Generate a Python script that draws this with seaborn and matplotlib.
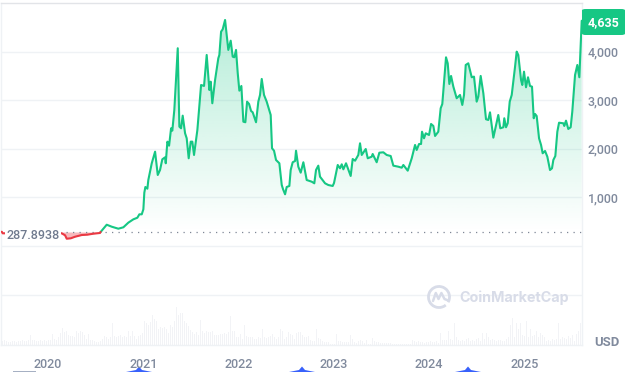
import numpy as np
import matplotlib
matplotlib.use("Agg")
import matplotlib.pyplot as plt
from matplotlib.patches import FancyBboxPatch, Polygon, Arc
import seaborn as sns

BASE_YEAR = 2020
year_offsets = [-.486,-.476,.144,.179,.196,.238,.284,.354,.413,.476,.546,.552,.581,.616,.669,.738,.791,.843,.896,.938,.959,.984,
1.001,1.011,1.022,1.043,1.053,1.089,1.124,1.152,1.176,1.200,1.229,1.236,1.253,1.271,1.292,1.305,1.326,1.362,1.379,1.397,1.414,1.439,1.456,1.477,1.498,1.515,1.533,1.568,1.607,1.638,1.666,1.694,1.708,1.725,1.754,1.788,1.799,1.817,1.834,1.859,1.893,1.918,1.939,1.956,1.974,1.992,
2.009,2.030,2.051,2.072,2.090,2.111,2.132,2.149,2.184,2.208,2.226,2.244,2.268,2.296,2.338,2.352,2.373,2.394,2.429,2.454,2.468,2.489,2.506,2.534,2.548,2.569,2.594,2.604,2.628,2.653,2.681,2.716,2.769,2.796,2.814,2.838,2.856,2.909,2.943,2.989,
3.003,3.042,3.066,3.084,3.101,3.129,3.178,3.199,3.224,3.258,3.276,3.294,3.336,3.357,3.399,3.409,3.451,3.479,3.521,3.556,3.598,3.626,3.678,3.714,3.731,3.777,3.819,3.854,3.871,3.896,3.917,3.927,3.948,3.966,
4.001,4.022,4.046,4.064,4.098,4.123,4.140,4.179,4.197,4.214,4.232,4.256,4.291,4.326,4.350,4.368,4.386,4.413,4.449,4.473,4.501,4.518,4.543,4.571,4.599,4.623,4.641,4.676,4.701,4.728,4.749,4.781,4.791,4.809,4.827,4.848,4.869,4.904,4.921,4.938,4.967,4.980,4.998,
5.019,5.040,5.061,5.082,5.100,5.114,5.131,5.156,5.177,5.194,5.219,5.243,5.271,5.292,5.306,5.327,5.348,5.366,5.411,5.421,5.439,5.463,5.488,5.505,5.534,5.558,5.579,5.604]
prices = [294,261,261,220,150,158,191,226,233,253,268,288,356,438,397,356,385,480,549,582,652,652,
755,1097,1214,1179,1358,1702,1941,1461,1564,1784,1825,1702,2147,2064,2422,2373,2799,4069,2455,2422,2682,2319,2216,1805,2147,2147,1873,2387,3313,3293,3931,3210,3381,2937,3416,3863,3931,4410,4459,4651,4034,4225,3896,3883,4034,3554,
3196,3293,2558,2546,2970,2922,2778,2751,2546,2970,3108,3437,3108,2970,2696,2011,1961,1770,1702,1255,1167,1064,1214,1235,1564,1723,1749,1961,1632,1509,1723,1358,1323,1290,1564,1653,1426,1290,1255,1235,
1297,1667,1599,1681,1578,1702,1441,1790,1755,1873,2113,1873,1996,1805,1838,1893,1723,1920,1928,1873,1852,1653,1632,1611,1667,1550,1805,2079,1976,2099,2099,2352,2216,2319,
2284,2511,2470,2264,2352,2834,2922,3883,3759,3334,3499,3279,3040,3108,2902,3108,3725,3759,3472,3485,2970,3073,3499,3142,2608,2593,2751,2229,2455,2696,2422,2443,2628,2443,2525,2970,3108,3690,3999,3931,3416,3313,3587,
3266,3472,3293,3279,2628,2717,2675,2216,2079,1908,1955,1838,1564,1599,1770,1852,2352,2537,2525,2470,2579,2408,2443,2764,3519,3725,3472,4635]

volumes = [4,5,4,3,3,4,4,3,4,4,5,4,4,5,10,
5,5,4,4,5,4,5,4,5,5,
11,6,5,8,12,17,13,14,10,9,9,
8,14,12,14,13,10,6,11,
5,5,4,3,3,4,
6,9,8,6,8,22,
9,8,9,10,8,9,8,
14,9,14,9,6,9,10,12,
24,22,20,23,30,26,24,
16,18,17,18,16,12,20,18,24,
38,30,32,32,24,22,19,15,13,11,13,10,
25,14,12,14,13,13,14,10,10,10,11,11,12,11,13,29,14,14,8,8,11,6,20,9,8,8,8,6,6,8,7,16,8,7,8,9,11,8,6,8,16,14,6,8,13,11,10,6,12,13,13,10,8,8,9,5,4,4,16,7,6,4,3,3,3,1,1,1,11,4,4,3,3,3,3,10,6,3,2,4,5,4,2,5,1,1,7,4,3,3,2,2,2,2,2,2,1,1,1,1,
1,1,1,1,1,1,5,4,3,4,3,3,2,3,3,4,3,3,4,2,12,5,5,5,14,6,5,22,8,5,4,5,4,6,7,4,5,4,6,7,4,12,6,12,8,5,6,5,4,5,5,4,4,6,8,20,27,8,22,16,22,10,9,24,8,16,9,10,14,8,12,10,8,4,5,4,6,5,6,22,6,8,7,6,9,7,10,4,11,14,22,30,47]

tick_years = [2020, 2021, 2022, 2023, 2024, 2025]
price_ticks = [1000, 2000, 3000, 4000]
grid_levels = [-1000, 0, 1000, 2000, 3000, 4000]
baseline = 287.8938
last_price = 4635

GREEN = "#16c784"; RED = "#ea3943"; GRID = "#eff2f5"; TXT = "#808a9d"
sns.set_theme(style="white")
plt.rcParams["font.family"] = ["Roboto", "DejaVu Sans"]

W, H = 638, 372
fig = plt.figure(figsize=(W/100, H/100), dpi=100, facecolor="white")
rect = [1/W, 1-345/H, 581/W, 342/H]
ax_vol = fig.add_axes(rect, zorder=0)
ax = fig.add_axes(rect, zorder=1)
ax.patch.set_visible(False)

years = BASE_YEAR + np.array(year_offsets)
vals = np.array(prices, dtype=float)
xlim = (2019.506, 2025.607)
ylim = (-2037, 5000)

# volume
vol_x = 2019.517 + 0.021*np.arange(len(volumes))
sns.barplot(x=vol_x, y=volumes, native_scale=True, color="#f2f3f6", saturation=1,
            width=0.5, linewidth=0, ax=ax_vol)
ax_vol.set_xlim(xlim); ax_vol.set_ylim(0, 342); ax_vol.axis("off")

# gradient fill above the baseline
g = years >= BASE_YEAR + .552
r = years <= BASE_YEAR + .552
poly = ax.fill_between(years[g], vals[g], baseline, color="none", linewidth=0)
grad = np.zeros((256, 1, 4))
grad[..., 0], grad[..., 1], grad[..., 2] = 0x16/255, 0xc7/255, 0x84/255
grad[:, 0, 3] = np.linspace(0, .32, 256)
im = ax.imshow(grad, extent=[xlim[0], xlim[1], baseline, 4700], origin="lower",
               aspect="auto", zorder=1.5, interpolation="bilinear")
im.set_clip_path(poly.get_paths()[0], transform=ax.transData)
ax.fill_between(years[r], vals[r], baseline, color=RED, alpha=.35, linewidth=0, zorder=1.5)

sns.lineplot(x=years[g], y=vals[g], color=GREEN, linewidth=1.5, sort=False,
             estimator=None, errorbar=None, ax=ax, zorder=3)
sns.lineplot(x=years[r], y=vals[r], color=RED, linewidth=1.5, sort=False,
             estimator=None, errorbar=None, ax=ax, zorder=3)
ax.axhline(baseline, color="#7f8796", lw=0.9, ls=(0, (1, 4.2)), zorder=2)

ax.set_xlim(xlim); ax.set_ylim(ylim)
ax.set_xlabel(""); ax.set_ylabel("")
for lv in grid_levels:
    ax.axhline(lv, color=GRID, lw=1, zorder=0.5)

ax.set_xticks(tick_years); ax.set_xticklabels([str(t) for t in tick_years])
ax.yaxis.tick_right()
ax.set_yticks(price_ticks); ax.set_yticklabels([f"{v:,}" for v in price_ticks])
ax.tick_params(axis="both", length=0, labelcolor=TXT)
ax.tick_params(axis="y", pad=4, labelsize=9)
ax.tick_params(axis="x", pad=9, labelsize=9)
for lab in ax.get_yticklabels() + ax.get_xticklabels():
    lab.set_fontweight("medium")
for s in ax.spines.values():
    s.set_color(GRID); s.set_linewidth(1)
ax.spines["top"].set_color("#e2e4e8")

ax.text(2019.565, baseline-65, f"{baseline:.4f}", color="#6f7a8e", fontsize=9, fontweight="medium",
        ha="left", va="center", zorder=5,
        bbox=dict(boxstyle="square,pad=0.1", fc="white", ec="none"))

# last price tag
tag = FancyBboxPatch((582/W, 1-35/H), 43/W, 26/H, transform=fig.transFigure,
                     boxstyle="round,pad=0,rounding_size=0.006", fc=GREEN, ec="none",
                     zorder=6, mutation_aspect=H/W, clip_on=False)
fig.add_artist(tag)
fig.text(603.5/W, 1-22.5/H, f"{last_price:,}", color="white", fontsize=9, fontweight="bold",
         ha="center", va="center", zorder=7)
fig.text(607/W, 1-342.5/H, "USD", color="#808a9d", fontsize=9.4, fontweight="bold",
         ha="center", va="center")

# watermark
WM = "#d8dce8"
fig.text(459/W, 1-297.5/H, "CoinMarketCap", color=WM, fontsize=10.3, fontweight="bold",
         family=["Inter", "DejaVu Sans"], ha="left", va="center", zorder=2)
lg = fig.add_axes([427/W, 1-309/H, 24/W, 24/H], zorder=2)
lg.set_xlim(-12, 12); lg.set_ylim(-12, 12); lg.axis("off")
lg.add_patch(Arc((0, 0), 21, 21, theta1=-30, theta2=310, color=WM, lw=2))
lg.plot([-6, -3.2, -0.5, 2.4, 5.5, 8], [-4, 4, -2, 4, -2, -3], color=WM, lw=1.8)

# event markers cropped by the bottom edge
for cx in (139, 302, 468):
    fig.add_artist(Polygon([[(cx-13)/W, 0], [(cx-3)/W, 2/H], [cx/W, 5.5/H], [(cx+3)/W, 2/H], [(cx+13)/W, 0]],
                           closed=True, transform=fig.transFigure, fc="#3861fb", ec="none"))
fig.add_artist(Polygon([[13/W, 0], [13/W, 1.2/H], [36/W, 1.2/H], [36/W, 0]], closed=True,
                       transform=fig.transFigure, fc="#a6b0c3", ec="none"))

fig.savefig("out.png", dpi=100)
